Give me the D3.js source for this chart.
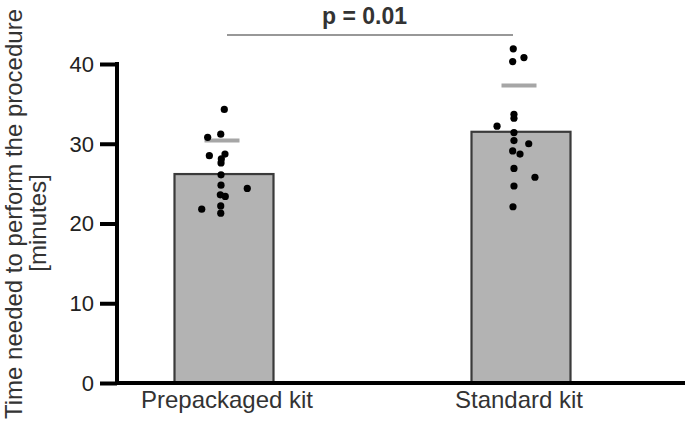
<!DOCTYPE html>
<html><head><meta charset="utf-8">
<script src="https://cdn.jsdelivr.net/npm/d3@7"></script>
<style>body{margin:0;background:#fff}svg{display:block}text{font-family:"Liberation Sans",Arial,Helvetica,sans-serif}</style>
</head><body><svg id="c" width="685" height="425"></svg>
<script>
const categories = ["Prepackaged kit", "Standard kit"];
const barValues = [26.2, 31.5];
const markerValues = [30.4, 37.3];
const pointsPrepackaged = [34.3, 30.8, 31.2, 28.5, 28.7, 28.1, 27.6, 26.1, 24.8, 24.4, 23.6, 23.4, 21.8, 22.2, 21.3];
const jitterPrepackaged = [0.003, -0.165, -0.033, -0.148, 0.01, -0.027, -0.03, -0.03, -0.03, 0.235, -0.037, 0.013, -0.225, -0.033, -0.033];
const pointsStandard = [41.9, 40.8, 40.3, 33.7, 33.2, 32.2, 31.4, 30.4, 30.0, 29.1, 28.7, 26.9, 25.8, 24.7, 22.1];
const jitterStandard = [-0.078, 0.03, -0.084, -0.071, -0.071, -0.242, -0.071, -0.071, 0.078, -0.084, -0.01, -0.071, 0.141, -0.071, -0.081];
const yTicks = [0, 10, 20, 30, 40];
const pLabel = "p = 0.01";
const yTitle = ["Time needed to perform the procedure", "[minutes]"];

const svg = d3.select("#c");
const x = d3.scaleBand().domain(categories).range([26, 719]).paddingInner(2/3).paddingOuter(0.5);
const y = d3.scaleLinear().domain([0, 40]).range([383, 64]);
const bw = x.bandwidth();

// bars
svg.selectAll("rect.bar").data(categories).join("rect")
  .attr("x", d => x(d)).attr("y", (d,i) => y(barValues[i]))
  .attr("width", bw).attr("height", (d,i) => y(0) - y(barValues[i]))
  .attr("fill", "#b3b3b3").attr("stroke", "#3a3a3a").attr("stroke-width", 2.2);

// markers
svg.selectAll("line.mk").data(categories).join("line")
  .attr("x1", d => x(d) + bw/2 - 2 - 17.5).attr("x2", d => x(d) + bw/2 - 2 + 17.5)
  .attr("y1", (d,i) => y(markerValues[i])).attr("y2", (d,i) => y(markerValues[i]))
  .attr("stroke", "#a6a6a6").attr("stroke-width", 4);

// points
const pts = [];
pointsPrepackaged.forEach((v,i) => pts.push({c: categories[0], v, j: jitterPrepackaged[i]}));
pointsStandard.forEach((v,i) => pts.push({c: categories[1], v, j: jitterStandard[i]}));
svg.selectAll("circle").data(pts).join("circle")
  .attr("cx", d => x(d.c) + bw/2 + d.j*bw).attr("cy", d => y(d.v))
  .attr("r", 3.6).attr("fill", "#000");

// y axis
const ya = svg.append("g").attr("transform", "translate(117,0)")
  .call(d3.axisLeft(y).tickValues(yTicks).tickSize(17).tickPadding(6));
ya.select(".domain").remove();
ya.selectAll(".tick line").attr("stroke", "#000").attr("stroke-width", 4);
ya.selectAll(".tick text").attr("font-size", 22).attr("fill", "#222").attr("dy", "0.34em");
svg.append("line").attr("x1", 117).attr("x2", 117).attr("y1", y(40) - 2).attr("y2", y(0) + 2)
  .attr("stroke", "#000").attr("stroke-width", 4);
// x axis
svg.append("line").attr("x1", 115).attr("x2", 685).attr("y1", y(0)).attr("y2", y(0))
  .attr("stroke", "#000").attr("stroke-width", 4);
const catShift = [3, -2];
svg.selectAll("text.cat").data(categories).join("text").attr("class", "cat")
  .attr("x", (d,i) => x(d) + bw/2 + catShift[i]).attr("y", 408)
  .attr("text-anchor", "middle").attr("font-size", 24).attr("fill", "#333").text(d => d);

// significance
const x1 = x(categories[0]) + bw/2 + 3, x2 = x(categories[1]) + bw/2 - 8;
svg.append("line").attr("x1", x1).attr("x2", x2).attr("y1", 35).attr("y2", 35)
  .attr("stroke", "#333").attr("stroke-width", 1.2);
svg.append("text").attr("x", 364.5).attr("y", 24).attr("text-anchor", "middle")
  .attr("font-size", 23).attr("font-weight", "bold").attr("fill", "#333").text(pLabel);

// y title
svg.append("text").attr("transform", "translate(21.5,214) rotate(-90)")
  .attr("text-anchor", "middle").attr("font-size", 24).attr("fill", "#333").text(yTitle[0]);
svg.append("text").attr("transform", "translate(46,223) rotate(-90)")
  .attr("text-anchor", "middle").attr("font-size", 24).attr("fill", "#333").text(yTitle[1]);
</script></body></html>
